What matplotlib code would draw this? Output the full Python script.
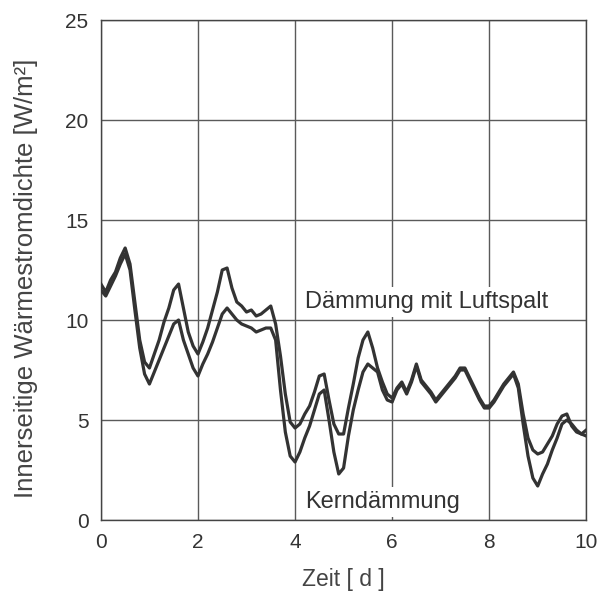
import matplotlib
matplotlib.use("Agg")
import matplotlib.pyplot as plt
import numpy as np

# Zeitachse [d]
zeit = np.round(np.arange(0, 10.01, 0.1), 1)

# Dämmung mit Luftspalt (obere Kurve)
luftspalt = [
    11.8, 11.4, 12.0, 12.4, 13.1, 13.6, 12.8, 10.9, 9.0, 7.9,
    7.6, 8.3, 9.0, 9.9, 10.6, 11.5, 11.8, 10.6, 9.4, 8.7,
    8.3, 8.9, 9.6, 10.5, 11.4, 12.5, 12.6, 11.6, 10.9, 10.7,
    10.4, 10.5, 10.2, 10.3, 10.5, 10.7, 9.8, 8.2, 6.3, 4.9,
    4.6, 4.8, 5.3, 5.7, 6.4, 7.2, 7.3, 6.0, 4.8, 4.3,
    4.3, 5.6, 6.8, 8.1, 9.0, 9.4, 8.6, 7.6, 6.9, 6.3,
    6.1, 6.6, 6.9, 6.4, 7.0, 7.8, 7.0, 6.7, 6.4, 6.0,
    6.3, 6.6, 6.9, 7.2, 7.6, 7.6, 7.1, 6.6, 6.1, 5.7,
    5.7, 6.0, 6.4, 6.8, 7.1, 7.4, 6.8, 5.3, 4.1, 3.5,
    3.3, 3.4, 3.8, 4.2, 4.8, 5.2, 5.3, 4.7, 4.4, 4.3,
    4.5,
]

# Kerndämmung (untere Kurve)
kern = [
    11.5, 11.2, 11.7, 12.2, 12.8, 13.3, 12.5, 10.5, 8.6, 7.3,
    6.8, 7.4, 8.0, 8.6, 9.2, 9.8, 10.0, 9.0, 8.3, 7.6,
    7.2, 7.8, 8.3, 8.9, 9.6, 10.3, 10.6, 10.3, 10.0, 9.8,
    9.7, 9.6, 9.4, 9.5, 9.6, 9.6, 9.0, 6.5, 4.4, 3.2,
    2.9, 3.4, 4.1, 4.7, 5.5, 6.3, 6.5, 5.0, 3.4, 2.3,
    2.6, 4.2, 5.5, 6.5, 7.4, 7.8, 7.6, 7.4, 6.5, 6.0,
    5.9, 6.5, 6.8, 6.3, 6.9, 7.7, 6.9, 6.6, 6.3, 5.9,
    6.2, 6.5, 6.8, 7.1, 7.5, 7.5, 7.0, 6.5, 6.0, 5.6,
    5.6, 5.9, 6.3, 6.7, 7.0, 7.3, 6.6, 4.8, 3.2, 2.1,
    1.7, 2.3, 2.8, 3.5, 4.1, 4.8, 5.0, 4.8, 4.5, 4.3,
    4.2,
]

xticks = [0, 2, 4, 6, 8, 10]
yticks = [0, 5, 10, 15, 20, 25]

plt.rcParams["font.family"] = ["Liberation Sans", "DejaVu Sans"]

fig = plt.figure(figsize=(5.97, 5.92), dpi=100)
ax = fig.add_axes([0.169, 0.1216, 0.813, 0.8446])

line_col = "#333333"
ax.plot(zeit, luftspalt, color=line_col, lw=2.3, zorder=3)
ax.plot(zeit, kern, color=line_col, lw=2.3, zorder=3)

ax.set_xlim(0, 10)
ax.set_ylim(0, 25)
ax.set_xticks(xticks)
ax.set_yticks(yticks)
ax.grid(True, color="#5a5a5a", lw=1.0)
ax.set_axisbelow(True)
ax.tick_params(length=0, labelsize=15, colors="#333333", pad=9)
for sp in ax.spines.values():
    sp.set_color("#444444")
    sp.set_linewidth(1.0)

ax.set_xlabel("Zeit [ d ]", fontsize=16.5, color="#444444", labelpad=12)
ax.set_ylabel("Innerseitige Wärmestromdichte [W/m²]", fontsize=18.5,
              color="#444444")
ax.yaxis.set_label_coords(-0.13, 0.484)

box = dict(facecolor="white", edgecolor="none", pad=3)
ax.text(4.2, 10.9, "Dämmung mit Luftspalt", fontsize=17, color="#333333",
        va="center", ha="left", bbox=box, zorder=4)
ax.text(4.2, 0.9, "Kerndämmung", fontsize=17, color="#333333",
        va="center", ha="left", bbox=box, zorder=4)

fig.savefig("out.png", dpi=100)
